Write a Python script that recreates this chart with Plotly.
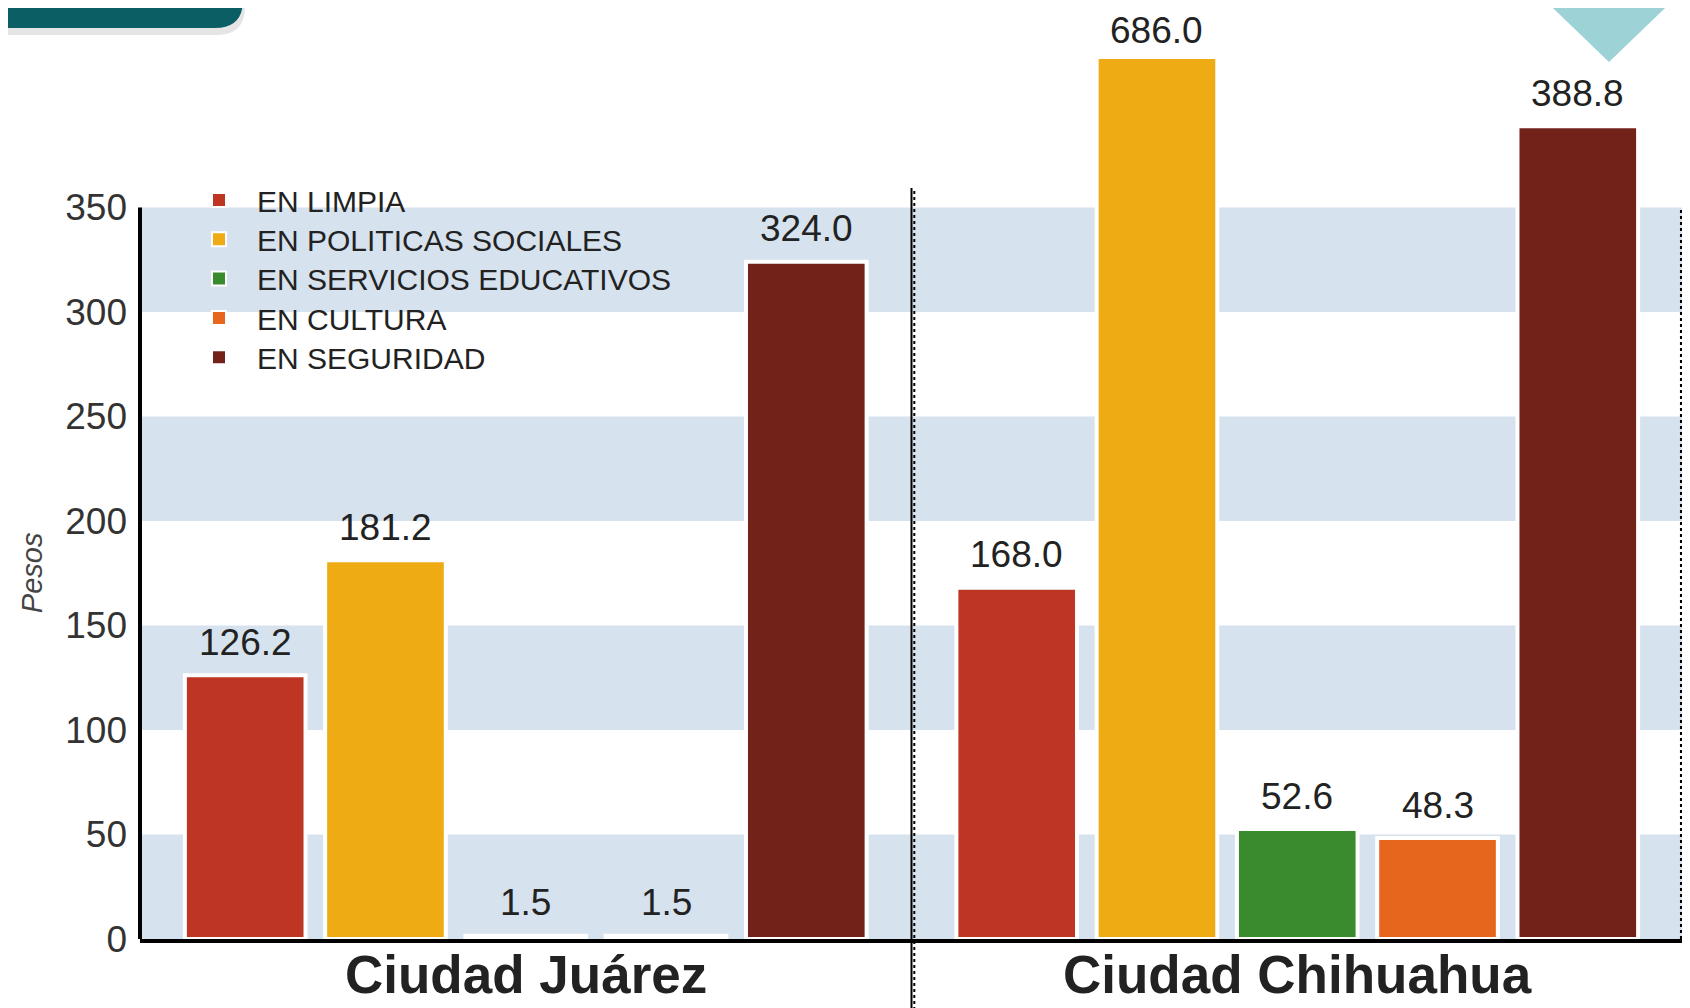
import plotly.graph_objects as go

# ---------------- data ----------------
CATEGORIES = ["EN LIMPIA", "EN POLITICAS SOCIALES", "EN SERVICIOS EDUCATIVOS",
              "EN CULTURA", "EN SEGURIDAD"]
CITIES = ["Ciudad Juárez", "Ciudad Chihuahua"]
JUAREZ = [126.2, 181.2, 1.5, 1.5, 324.0]
CHIHUAHUA = [168.0, 686.0, 52.6, 48.3, 388.8]
Y_TICKS = [0, 50, 100, 150, 200, 250, 300, 350]
Y_TITLE = "Pesos"

# ---------------- style ----------------
COLORS = ["#BE3524", "#EEAB13", "#3A8A2E", "#E6661D", "#73221A"]
BAND_COLOR = "#D6E2EE"
FONT = "Arial, Liberation Sans, Helvetica, sans-serif"
OFF = 8                      # page body margin
W, H = 1690 - OFF, 1008 - OFF
# plot area in page pixels
P_L, P_R, P_T, P_B = 140, 1683, 59, 939
ML, MR, MT, MB = P_L - OFF, W - (P_R - OFF), P_T - OFF, H - (P_B - OFF)
PW, PH = W - ML - MR, H - MT - MB
YMAX = 421
GROUP_START = [0, 5.5]
XRANGE = [-0.75, 10.25]
BAR_W = 0.86


def px(page_x):
    return (page_x - P_L) / PW


def py(page_y):
    return (P_B - page_y) / PH


values_by_city = [JUAREZ, CHIHUAHUA]

# legend rows (page y) and layout
LEG_FIRST, LEG_STEP = 200, 39.3
LEG_ITEMW = 66
LEG_LEFT = 181
legend_names = ["legend"] + [f"legend{k}" for k in range(2, len(CATEGORIES) + 1)]

fig = go.Figure()
for i, cat in enumerate(CATEGORIES):
    xs = [GROUP_START[g] + i for g in range(len(CITIES))]
    ys = [values_by_city[g][i] for g in range(len(CITIES))]
    fig.add_trace(go.Bar(
        x=xs, y=ys, name=cat, width=BAR_W, legendgroup=cat, showlegend=False,
        marker=dict(color=COLORS[i], line=dict(color="white", width=4)),
        hoverinfo="x+y+name",
    ))
    # legend entry (square swatch)
    fig.add_trace(go.Scatter(
        x=[None], y=[None], mode="markers", name=cat, legendgroup=cat,
        legend=legend_names[i], showlegend=True,
        marker=dict(symbol="square", size=14, color=COLORS[i],
                    line=dict(color="white", width=2)),
    ))

legend_layout = {}
for i, lname in enumerate(legend_names):
    legend_layout[lname] = dict(
        x=px(LEG_LEFT), y=py(LEG_FIRST + i * LEG_STEP), xanchor="left", yanchor="middle",
        bgcolor="rgba(0,0,0,0)", font=dict(family=FONT, size=30, color="#222222"),
        itemwidth=LEG_ITEMW,
    )

annotations = []
for g, vals in enumerate(values_by_city):
    for i, v in enumerate(vals):
        annotations.append(dict(
            x=GROUP_START[g] + i, y=min(v, YMAX), xref="x", yref="y",
            text=f"{v:.1f}", showarrow=False, yanchor="middle",
            yshift=33 if v <= YMAX else 29,
            font=dict(family=FONT, size=37, color="#222222"),
        ))
for g, city in enumerate(CITIES):
    annotations.append(dict(
        x=GROUP_START[g] + (len(CATEGORIES) - 1) / 2, y=0, xref="x", yref="paper",
        text=f"<b>{city}</b>", showarrow=False, yanchor="middle", yshift=-35,
        font=dict(family=FONT, size=53, color="#222222"),
    ))
annotations.append(dict(
    x=px(32), y=Y_TICKS[-1] / 2, xref="paper", yref="y", xanchor="center",
    text=f"<i>{Y_TITLE}</i>", textangle=-90, showarrow=False,
    font=dict(family=FONT, size=29, color="#444444"),
))

shapes = []
for k in range(0, len(Y_TICKS) - 1, 2):
    shapes.append(dict(type="rect", xref="paper", yref="y", x0=0, x1=1,
                       y0=Y_TICKS[k], y1=Y_TICKS[k + 1], fillcolor=BAND_COLOR,
                       line=dict(width=0), layer="below"))
shapes.append(dict(type="line", xref="paper", yref="y", x0=0, x1=0,
                   y0=0, y1=Y_TICKS[-1], line=dict(color="black", width=4)))
shapes.append(dict(type="line", xref="paper", yref="y", x0=0.999, x1=0.999,
                   y0=0, y1=Y_TICKS[-1], line=dict(color="black", width=3, dash="dot")))
div_x = (GROUP_START[0] + len(CATEGORIES) - 1 + GROUP_START[1]) / 2
shapes.append(dict(type="line", xref="x", yref="paper", x0=div_x, x1=div_x,
                   y0=py(1010), y1=py(188), line=dict(color="black", width=2)))
shapes.append(dict(type="line", xref="x", yref="paper", x0=div_x + 0.02, x1=div_x + 0.02,
                   y0=py(1010), y1=py(188), line=dict(color="black", width=2, dash="dot")))

# decorations (top corners)
def rounded_tab(x1, ybot, r, dy=0):
    return (f"M {px(-20)},{py(-20)} L {px(-20)},{py(ybot + dy)} L {px(x1 - r)},{py(ybot + dy)} "
            f"Q {px(x1)},{py(ybot + dy)} {px(x1)},{py(ybot + dy - r)} L {px(x1)},{py(-20)} Z")

shapes.append(dict(type="path", xref="paper", yref="paper", path=rounded_tab(245, 29, 28, 6),
                   fillcolor="rgba(0,0,0,0.10)", line=dict(width=0)))
shapes.append(dict(type="path", xref="paper", yref="paper", path=rounded_tab(243, 28, 28),
                   fillcolor="#0C5E65", line=dict(width=0)))
tri = f"M {px(1530)},{py(-14)} L {px(1688)},{py(-14)} L {px(1609)},{py(62)} Z"
shapes.append(dict(type="path", xref="paper", yref="paper", path=tri,
                   fillcolor="#9DD3D7", line=dict(width=0)))

fig.update_layout(
    width=W, height=H,
    margin=dict(l=ML, r=MR, t=MT, b=MB),
    paper_bgcolor="white", plot_bgcolor="white",
    barmode="overlay",
    showlegend=True,
    xaxis=dict(range=XRANGE, showticklabels=False, showgrid=False, zeroline=False,
               showline=True, linecolor="black", linewidth=4, ticks=""),
    yaxis=dict(range=[0, YMAX], tickvals=Y_TICKS, ticktext=[str(t) for t in Y_TICKS],
               showgrid=False, zeroline=False, showline=False, ticks="",
               ticklabelstandoff=12,
               tickfont=dict(family=FONT, size=37, color="#333333")),
    annotations=annotations,
    shapes=shapes,
    font=dict(family=FONT),
    **legend_layout,
)

fig.write_html("out.html")
